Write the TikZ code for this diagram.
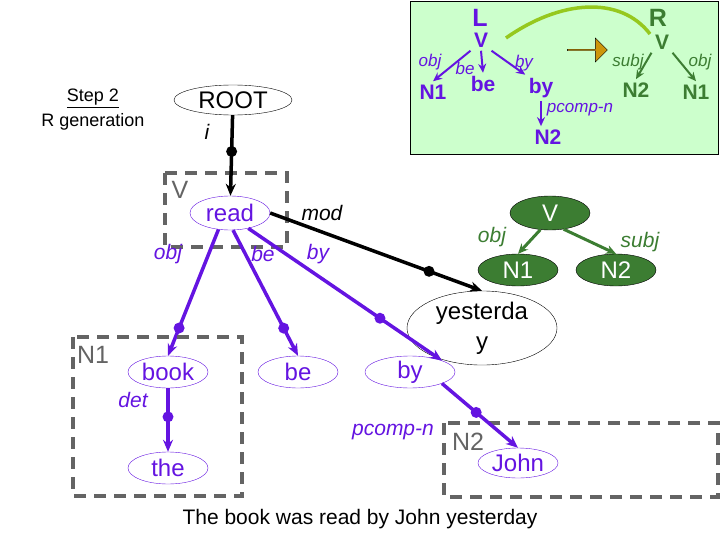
\documentclass[tikz,border=0pt]{standalone}
\usepackage{fontspec}
\setmainfont{Liberation Sans}
\usetikzlibrary{shapes.geometric,shapes.arrows,arrows.meta}
\definecolor{pur}{RGB}{100,20,225}
\definecolor{dgreen}{RGB}{60,125,50}
\definecolor{lgreen}{RGB}{204,255,204}
\definecolor{olive}{RGB}{150,200,30}
\definecolor{brownish}{RGB}{205,150,10}
\definecolor{dgray}{RGB}{100,100,100}
\begin{document}
\begin{tikzpicture}[x=1pt,y=-1pt,
  ell/.style={ellipse,draw,pur,inner sep=0pt,minimum height=32,text=pur,font=\fontsize{24}{24}\selectfont},
  gell/.style={ellipse,draw=black,fill=dgreen,inner sep=0pt,minimum width=80,minimum height=34,text=white,font=\fontsize{24}{24}\selectfont},
  parr/.style={pur,line width=3.5pt,-{Stealth[length=12pt,width=10pt]}},
  barr/.style={black,line width=3.5pt,-{Stealth[length=12pt,width=10pt]}},
  garr/.style={dgreen,line width=3pt,-{Stealth[length=10pt,width=9pt]}},
  tparr/.style={pur,line width=2pt,-{Stealth[length=9pt,width=8pt]}},
  tgarr/.style={dgreen,line width=2pt,-{Stealth[length=9pt,width=8pt]}},
  dot/.style={circle,fill,inner sep=0pt,minimum size=11pt},
  dbox/.style={draw=dgray,line width=3.5pt,dash pattern=on 12pt off 8pt},
  lab/.style={font=\fontsize{21}{22}\selectfont\itshape},
  slab/.style={font=\fontsize{17}{18}\selectfont\rmfamily\itshape},
  tp/.style={text=pur,font=\fontsize{21}{22}\selectfont\bfseries},
  tg/.style={text=dgreen,font=\fontsize{21}{22}\selectfont\bfseries}]
\useasboundingbox (0,0) rectangle (720,540);
% green box
\draw[fill=lgreen,line width=1pt] (410,2) rectangle (718,155);
\node[text=pur,font=\fontsize{25}{25}\selectfont\bfseries] (L) at (480,18) {L};
\node[tp] (tV) at (481,40) {V};
\node[tp] (tN1) at (433,92) {N1};
\node[tp] (tbe) at (483,84) {be};
\node[tp] (tby) at (541,88) {by};
\node[tp] (tN2) at (548,137) {N2};
\node[slab,text=pur] at (430,62) {obj};
\node[slab,text=pur] at (465,68) {be};
\node[slab,text=pur] at (524,63) {by};
\node[slab,text=pur] at (580,110) {pcomp-n};
\draw[tparr] (tV.south west) -- (tN1.north);
\draw[tparr] (tV.south) -- (tbe.north);
\draw[tparr] (tV.south east) -- (tby.north west);
\draw[tparr] (tby.south) -- (tby.south |- tN2.north);
\node[text=dgreen,font=\fontsize{25}{25}\selectfont\bfseries] (R) at (658,18) {R};
\node[tg] (rV) at (662,42) {V};
\node[tg] (rN2) at (636,90) {N2};
\node[tg] (rN1) at (696,92) {N1};
\node[slab,text=dgreen] at (628,62) {subj};
\node[slab,text=dgreen] at (700,62) {obj};
\draw[tgarr] (rV.south west) -- (rN2.north);
\draw[tgarr] (rV.south east) -- (rN1.north);
\draw[olive,line width=3.5pt] (506,38) .. controls (560,0) and (620,-5) .. (650,34);
\node[single arrow,draw=black,fill=brownish,minimum height=40,minimum width=24,single arrow head extend=3pt,inner sep=0pt] (bar) at (587,50) {};
% step label
\node[align=center,font=\fontsize{18}{25}\selectfont] (step) at (93,110) {\underline{Step 2}\\R generation};
% main tree
\node[ell,draw=black,text=black,minimum width=118,minimum height=30] (root) at (233,100) {ROOT};
\node[lab] at (207,132) {i};
\draw[dbox] (165,173) rectangle (287,247);
\node[text=dgray,font=\fontsize{25}{25}\selectfont] at (180,190) {V};
\node[ell,minimum width=80,minimum height=34] (read) at (230,213) {read};
\draw[barr] (root) -- node[pos=0.45,dot]{} (read);
\node[ell,draw=black,text=black,minimum width=150,minimum height=46,align=center,font=\fontsize{24}{30}\selectfont] (yest) at (482,328) {yesterda\\y};
\node[lab] at (322,213) {mod};
\draw[barr] (read.east) -- node[pos=0.75,dot]{} (yest.north);
\node[lab,text=pur] at (168,254) {obj};
\node[lab,text=pur] at (263,254) {be};
\node[lab,text=pur] at (318,254) {by};
\node[ell,minimum width=80] (book) at (168,372) {book};
\node[ell,minimum width=80] (be) at (298,372) {be};
\node[ell,minimum width=90] (by) at (410,372) {by};
\draw[parr] (read.235) -- node[pos=0.78,dot]{} (book.north);
\draw[parr] (read.-80) -- node[pos=0.78,dot]{} (be.north);
\draw[parr] (read.-40) -- node[pos=0.68,dot]{} (by.north east);
\draw[dbox] (73,337) rectangle (242,496);
\node[text=dgray,font=\fontsize{25}{25}\selectfont] at (93,355) {N1};
\node[lab,text=pur] at (133,400) {det};
\node[ell,minimum width=80] (the) at (168,468) {the};
\draw[parr] (book) -- node[pos=0.45,dot]{} (the);
\draw[dbox] (444,423) rectangle (718,497);
\node[text=dgray,font=\fontsize{25}{25}\selectfont] at (468,442) {N2};
\node[ell,minimum width=80,minimum height=30] (john) at (518,463) {John};
\draw[parr] (by.south east) -- node[pos=0.45,dot]{} (john.north);
\node[lab,text=pur] at (393,432) {pcomp-n};
% green tree
\node[gell] (gV) at (550,213) {V};
\node[gell,minimum height=32] (gN1) at (518,270) {N1};
\node[gell,minimum height=32] (gN2) at (616,270) {N2};
\draw[garr] (gV.240) -- (gN1.north);
\draw[garr] (gV.-50) -- (gN2.north);
\node[lab,text=dgreen] at (492,237) {obj};
\node[lab,text=dgreen] at (640,242) {subj};
\node[font=\fontsize{21}{22}\selectfont] at (360,519) {The book was read by John yesterday};
\end{tikzpicture}
\end{document}
